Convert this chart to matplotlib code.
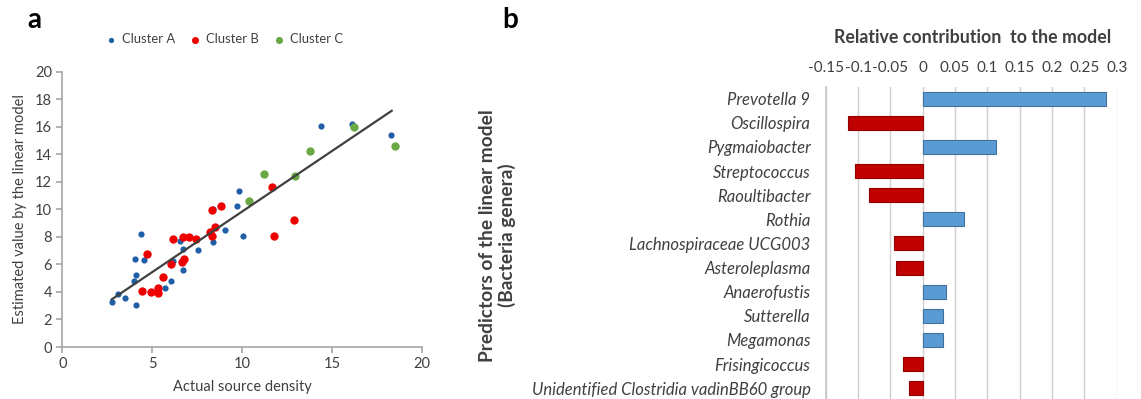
import numpy as np
import matplotlib
matplotlib.use("Agg")
import matplotlib.pyplot as plt

plt.rcParams['font.family'] = ['Lato', 'DejaVu Sans']

# panel a data: actual vs estimated source density
a_x = [2.76, 3.10, 3.51, 4.08, 4.01, 4.08, 4.04, 4.40, 4.56, 5.73, 6.05, 6.16, 6.57,
       6.72, 6.72, 7.53, 8.37, 8.37, 9.04, 9.74, 9.83, 10.06, 14.38, 16.14, 18.27]
a_y = [3.24, 3.85, 3.58, 3.03, 4.82, 5.21, 6.37, 8.21, 6.30, 4.29, 4.82, 6.22, 7.68,
       7.12, 5.57, 7.05, 7.60, 10.02, 8.50, 10.24, 11.33, 8.04, 16.08, 16.20, 15.40]
b_x = [4.43, 4.71, 4.95, 5.33, 5.33, 5.62, 6.03, 6.18, 6.68, 6.79, 6.73, 7.03, 7.44,
       8.20, 8.31, 8.31, 8.52, 8.83, 11.65, 11.80, 12.90]
b_y = [4.07, 6.75, 3.97, 4.28, 3.90, 5.10, 6.03, 7.82, 6.20, 6.39, 8.01, 8.01, 7.82,
       8.38, 8.06, 9.95, 8.74, 10.26, 11.62, 8.06, 9.25]
c_x = [10.39, 11.21, 12.95, 13.77, 16.23, 18.53]
c_y = [10.63, 12.59, 12.45, 14.26, 15.96, 14.58]
fit_x = [2.75, 18.33]
fit_y = [3.46, 17.16]

# panel b data: relative contribution per genus
genera = ['Prevotella 9', 'Oscillospira', 'Pygmaiobacter', 'Streptococcus', 'Raoultibacter',
          'Rothia', 'Lachnospiraceae UCG003', 'Asteroleplasma', 'Anaerofustis', 'Sutterella',
          'Megamonas', 'Frisingicoccus', 'Unidentified Clostridia vadinBB60 group']
contrib = [0.283, -0.115, 0.1136, -0.105, -0.083, 0.0635, -0.045, -0.041,
           0.0356, 0.031, 0.031, -0.030, -0.021]
b_ticks = [-0.15, -0.1, -0.05, 0, 0.05, 0.1, 0.15, 0.2, 0.25, 0.3]
b_ticklabels = ['-0.15', '-0.1', '-0.05', '0', '0.05', '0.1', '0.15', '0.2', '0.25', '0.3']

txt = '#404040'
fig = plt.figure(figsize=(11.41, 3.99), dpi=100)

# ---- panel a
ax = fig.add_axes([0.0546, 0.1303, 0.315, 0.69])
ax.scatter(a_x, a_y, s=20, color='#1F5FA8', label='Cluster A', zorder=3, linewidths=0)
ax.scatter(b_x, b_y, s=36, color='#EE0000', label='Cluster B', zorder=3, linewidths=0)
ax.scatter(c_x, c_y, s=36, color='#6AA843', label='Cluster C', zorder=3, linewidths=0)
ax.plot(fit_x, fit_y, color='#404040', lw=1.6, zorder=4)
ax.set_xlim(0, 20)
ax.set_ylim(0, 20)
ax.set_xticks([0, 5, 10, 15, 20])
ax.set_yticks(range(0, 21, 2))
for s in ['top', 'right']:
    ax.spines[s].set_visible(False)
for s in ['left', 'bottom']:
    ax.spines[s].set_color('#A6A6A6')
    ax.spines[s].set_linewidth(1.2)
ax.tick_params(colors='#A6A6A6', labelcolor=txt, labelsize=10.5, length=4, width=1.2)
ax.set_xlabel('Actual source density', fontsize=10.5, color=txt, labelpad=6)
ax.set_ylabel('Estimated value by the linear model', fontsize=10.5, color=txt, labelpad=6)
ax.legend(loc='center', bbox_to_anchor=(0.44, 1.119), ncol=3, frameon=False,
          fontsize=9.4, handletextpad=-0.15, columnspacing=0.55, markerscale=0.85,
          labelcolor=txt, borderaxespad=0)

fig.text(0.024, 0.95, 'a', fontsize=20, fontweight='bold', ha='left', va='center')
fig.text(0.44, 0.95, 'b', fontsize=20, fontweight='bold', ha='left', va='center')

# ---- panel b
bx = fig.add_axes([0.7237, -0.003, 0.255, 0.786])
ypos = np.arange(len(genera))
cols = ['#5B9BD5' if v > 0 else '#C00000' for v in contrib]
edges = ['#41719C' if v > 0 else '#900000' for v in contrib]
bx.barh(ypos, contrib, height=0.58, color=cols, edgecolor=edges, linewidth=0.8, zorder=3)
bx.set_xlim(-0.15, 0.3)
bx.set_ylim(len(genera) - 0.5, -0.5)
bx.set_xticks(b_ticks)
bx.set_xticklabels(b_ticklabels)
bx.xaxis.tick_top()
bx.grid(axis='x', color='#CFCFCF', lw=1.0, zorder=0)
for s in ['top', 'right', 'bottom']:
    bx.spines[s].set_visible(False)
bx.spines['left'].set_color('#C8C8C8')
bx.spines['left'].set_linewidth(1.2)
bx.set_yticks(ypos)
bx.set_yticklabels(genera, fontstyle='italic', fontsize=12)
bx.tick_params(axis='y', length=0, pad=11, labelcolor=txt)
bx.tick_params(axis='x', length=0, pad=8, labelsize=11, labelcolor=txt)
fig.text(0.8524, 0.905, 'Relative contribution  to the model', fontsize=12.8,
         fontweight='bold', color=txt, ha='center', va='center')
fig.text(0.436, 0.41, 'Predictors of the linear model\n(Bacteria genera)', rotation=90,
         fontsize=13.8, fontweight='bold', color=txt, ha='center', va='center',
         multialignment='center', linespacing=1.1)

fig.savefig('out.png', dpi=100)
